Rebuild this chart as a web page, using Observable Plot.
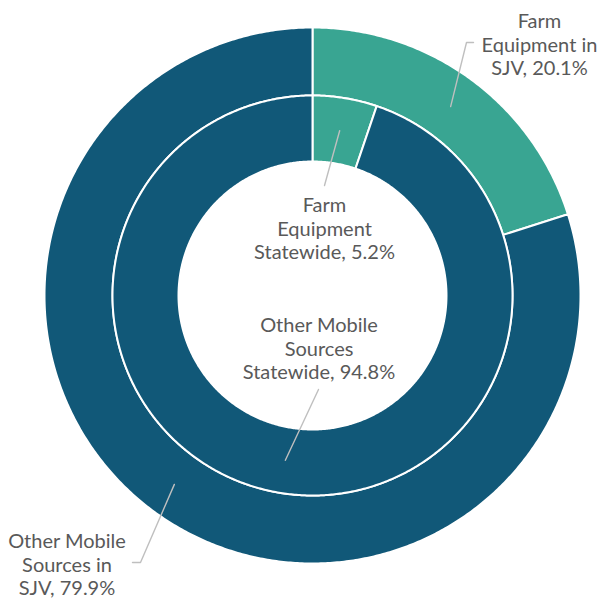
<!DOCTYPE html>
<html>
<head>
<meta charset="utf-8">
<script src="https://cdn.jsdelivr.net/npm/d3@7"></script>
<script src="https://cdn.jsdelivr.net/npm/@observablehq/plot@0.6"></script>
<style>
  html, body { margin: 0; padding: 0; background: #ffffff; }
  #chart { width: 601px; height: 599px; }
</style>
</head>
<body>
<div id="chart"></div>
<script>
// ---- Data ----
const ringNames = ["SJV", "Statewide"];
const categories = ["Farm Equipment", "Other Mobile Sources"];
const sjvShares = [20.1, 79.9];
const statewideShares = [5.2, 94.8];
const sjvLabelNames = ["Farm\nEquipment in\nSJV", "Other Mobile\nSources in\nSJV"];
const statewideLabelNames = ["Farm\nEquipment\nStatewide", "Other Mobile\nSources\nStatewide"];

// ---- Styles / layout ----
const colors = ["#39a592", "#115878"];
const textColor = "#595959";
const leaderColor = "#bfbfbf";
const fontFamily = "Lato, 'Open Sans', sans-serif";
const ringRadii = { SJV: [200, 268], Statewide: [134, 200] };
// label anchors (center-relative, y up) and leader elbows
const labelLayout = {
  "SJV|Farm Equipment": { x: 227, y: 251.5, elbow: [[154, 253], [161, 253]] },
  "SJV|Other Mobile Sources": { x: -245.5, y: -268.5, elbow: [[-172, -267], [-180, -267]] },
  "Statewide|Farm Equipment": { x: 12, y: 67.5, elbow: [[12, 110]] },
  "Statewide|Other Mobile Sources": { x: 6.5, y: -52.5, elbow: [[6, -94]] }
};

const ringValues = { SJV: sjvShares, Statewide: statewideShares };
const ringLabels = { SJV: sjvLabelNames, Statewide: statewideLabelNames };

const slicePts = [];
const labels = [];
const leaders = [];
const step = Math.PI / 360;
for (const ring of ringNames) {
  const [r0, r1] = ringRadii[ring];
  const arcs = d3.pie().sort(null).value(d => d)(ringValues[ring]);
  arcs.forEach((a, i) => {
    const key = ring + "|" + categories[i];
    const n = Math.max(2, Math.ceil((a.endAngle - a.startAngle) / step));
    for (let k = 0; k <= n; k++) {
      const t = a.startAngle + (a.endAngle - a.startAngle) * k / n;
      slicePts.push({ key, category: categories[i], x: r1 * Math.sin(t), y: r1 * Math.cos(t) });
    }
    for (let k = n; k >= 0; k--) {
      const t = a.startAngle + (a.endAngle - a.startAngle) * k / n;
      slicePts.push({ key, category: categories[i], x: r0 * Math.sin(t), y: r0 * Math.cos(t) });
    }
    const mid = (a.startAngle + a.endAngle) / 2;
    const rm = (r0 + r1) / 2;
    const lay = labelLayout[key];
    leaders.push({ key, x: rm * Math.sin(mid), y: rm * Math.cos(mid) });
    for (const [ex, ey] of lay.elbow) leaders.push({ key, x: ex, y: ey });
    labels.push({ key, x: lay.x, y: lay.y, text: ringLabels[ring][i] + ", " + ringValues[ring][i].toFixed(1) + "%" });
  });
}

const chart = Plot.plot({
  width: 601,
  height: 599,
  margin: 0,
  x: { domain: [-312, 289], range: [0, 601], axis: null },
  y: { domain: [-304, 295], range: [599, 0], axis: null },
  color: { domain: categories, range: colors },
  style: { background: "#ffffff" },
  marks: [
    Plot.line(slicePts, {
      x: "x", y: "y", z: "key", fill: "category",
      stroke: "#ffffff", strokeWidth: 2, curve: "linear-closed"
    }),
    Plot.line(leaders, { x: "x", y: "y", z: "key", stroke: leaderColor, strokeWidth: 1.4 }),
    Plot.text(labels, {
      x: "x", y: "y", text: "text", fill: textColor, fontSize: 20,
      lineHeight: 1.19, fontFamily
    })
  ]
});
document.getElementById("chart").appendChild(chart);
</script>
</body>
</html>
